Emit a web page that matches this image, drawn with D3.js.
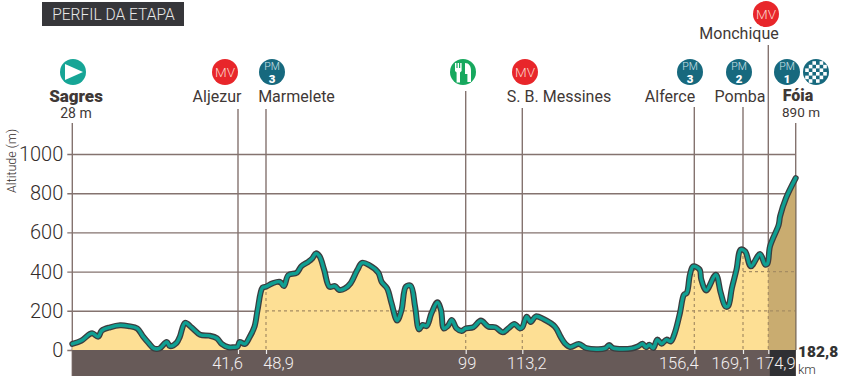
<!DOCTYPE html>
<html>
<head>
<meta charset="utf-8">
<script src="https://cdn.jsdelivr.net/npm/d3@7"></script>
<style>
  body { margin: 0; background: #fff; }
  svg { display: block; }
  text { font-family: Roboto, sans-serif; }
</style>
</head>
<body>
<div id="chart"></div>
<script>
// Profile: km along the stage, altitude in metres
const profileKm = [0, 2.3, 4.4, 5.1, 6.5, 7.4, 9.5, 12, 14.1, 16.3, 17.8, 19.1, 20.5, 21.9, 23.7, 24.5, 26.2, 27, 28.3, 30, 32.1, 34.4, 36.3, 37.5, 39.2, 40.5, 41.5, 42, 43.4, 44.6, 45.9, 46.7, 48, 48.9, 50.5, 52.4, 53.4, 54.5, 56.6, 57.8, 59.5, 60.5, 61.4, 62.3, 63.5, 64.8, 66.2, 67.3, 68.7, 70.1, 71.8, 73, 74.8, 77.1, 77.9, 79.3, 80.4, 81.8, 82.9, 84, 85.2, 86.3, 87.3, 88.2, 89.2, 90.4, 91.9, 92.8, 93.5, 94.5, 95.5, 96.7, 98, 99, 100.9, 102.8, 104.7, 106.4, 108.3, 109.7, 111.2, 112.6, 113.2, 114.3, 115.3, 116.6, 118.5, 121.4, 122.8, 123.9, 125.2, 127.4, 129.3, 134, 135, 136, 140.7, 142.3, 143.4, 144.3, 145.1, 146.1, 147.1, 148.2, 149.4, 150.5, 151.5, 152.8, 153.8, 154.5, 155.3, 156.1, 157.8, 158.2, 159.5, 162, 163.3, 164.5, 165.2, 166.2, 167.4, 168.5, 169.6, 170.9, 173, 174.2, 174.7, 175.4, 177.9, 178.3, 180, 182.8];
const profileAlt = [31, 48, 82, 85, 68, 99, 116, 126, 122, 110, 68, 37, 8, 8, 41, 20, 37, 68, 139, 114, 78, 73, 60, 31, 14, 14, 17, 41, 31, 65, 119, 204, 318, 323, 340, 348, 326, 382, 394, 428, 450, 467, 493, 479, 408, 323, 326, 306, 314, 340, 408, 445, 433, 394, 348, 314, 238, 150, 204, 323, 328, 221, 105, 128, 122, 187, 243, 204, 110, 122, 153, 110, 97, 110, 116, 150, 119, 116, 90, 110, 133, 110, 116, 170, 143, 172, 158, 119, 68, 34, 15, 31, 10, 8, 25, 10, 8, 19, 32, 14, 27, 10, 53, 32, 53, 44, 87, 189, 282, 291, 384, 427, 410, 362, 304, 384, 291, 223, 223, 316, 410, 512, 503, 427, 490, 435, 440, 529, 639, 682, 775, 877];

const altTicks = [0, 200, 400, 600, 800, 1000];
const kmTicks = [41.6, 48.9, 99, 113.2, 156.4, 169.1, 174.9];
const totalKm = 182.8;
const lastClimbKm = 174.9;

const placeNames = ["Aljezur", "Marmelete", "", "S. B. Messines", "Alferce", "Pomba", "Monchique"];
const placeKm = [41.6, 48.9, 99, 113.2, 156.4, 169.1, 174.9];
const placeBadge = ["MV", "PM3", "food", "MV", "PM3", "PM2", "MV"];

const width = 860, height = 376;

const colors = {
    grid: "#84736f", axisText: "#4d4442", band: "#675a58", bandDark: "#303033",
    area: "#fddf94", areaDark: "#c9ac70", dash: "#a58c62",
    line: "#0f9f92", lineEdge: "#3c3d3f",
    mv: "#e8262a", pm: "#17697e", start: "#16a596", food: "#17a85e"
};

const svg = d3.select("#chart").append("svg")
    .attr("width", width)
    .attr("height", height);

// The printed profile is not quite linear, so the scale is pinned at each km mark
const x = d3.scaleLinear()
    .domain([0, 41.6, 48.9, 99, 113.2, 156.4, 169.1, 174.9, 182.8])
    .range([72.3, 238, 266, 465.7, 522.3, 694.3, 743, 768.3, 795.7]);
const y = d3.scaleLinear().domain([0, 1000]).range([350, 154]);

const profile = profileKm.map((km, i) => ({ km: km, alt: profileAlt[i] }));
const curve = d3.curveCatmullRom.alpha(0.5);
const line = d3.line().curve(curve).x(d => x(d.km)).y(d => y(d.alt));
const area = d3.area().curve(curve).x(d => x(d.km)).y0(y(0)).y1(d => y(d.alt));

// Title box
svg.append("rect").attr("x", 42).attr("y", 2).attr("width", 142).attr("height", 24).attr("fill", "#36363a");
svg.append("text").attr("x", 113.5).attr("y", 20).attr("text-anchor", "middle")
    .attr("font-size", 15.6).attr("font-weight", 300).attr("fill", "#e8e8e8")
    .text("PERFIL DA ETAPA");

// Y axis, ticks stretched across as grid lines
const yAxis = svg.append("g")
    .attr("transform", `translate(${x(0)},0)`)
    .call(d3.axisLeft(y).tickValues(altTicks).tickSize(-(x(totalKm) - x(0))).tickPadding(9).tickFormat(d3.format("d")));
yAxis.select(".domain").remove();
yAxis.selectAll("line").attr("x1", -5).attr("stroke", colors.grid).attr("stroke-width", 1.4);
yAxis.selectAll("text").attr("font-size", 20).attr("font-weight", 300).attr("fill", "#332c2a")
    .style("font-family", "Roboto");

svg.append("text")
    .attr("transform", "translate(16,161) rotate(-90)")
    .attr("text-anchor", "middle").attr("font-size", 12.5).attr("font-weight", 300).attr("fill", "#332c2a")
    .text("Altitude (m)");

svg.append("line").attr("x1", x(0)).attr("x2", x(0)).attr("y1", 123).attr("y2", height)
    .attr("stroke", colors.grid).attr("stroke-width", 1.4);

// Guide lines from the labels down, covered by the area below the curve
const guideTop = { "Aljezur": 109, "Marmelete": 109, "": 91, "S. B. Messines": 108, "Alferce": 107, "Pomba": 107, "Monchique": 45 };
svg.selectAll(".guide").data(placeKm).join("line")
    .attr("class", "guide")
    .attr("x1", d => x(d)).attr("x2", d => x(d))
    .attr("y1", (d, i) => guideTop[placeNames[i]]).attr("y2", y(0))
    .attr("stroke", colors.grid).attr("stroke-width", 1.4);
svg.append("line").attr("x1", x(totalKm)).attr("x2", x(totalKm)).attr("y1", 123).attr("y2", y(0))
    .attr("stroke", colors.grid).attr("stroke-width", 1.4);

// Area, with the last climb darker
svg.append("path").datum(profile).attr("d", area).attr("fill", colors.area);
svg.append("clipPath").attr("id", "last-climb").append("rect")
    .attr("x", x(lastClimbKm)).attr("y", 0).attr("width", x(totalKm) - x(lastClimbKm)).attr("height", y(0));
svg.append("path").datum(profile).attr("d", area).attr("fill", colors.areaDark).attr("clip-path", "url(#last-climb)");

// Dashed grid inside the area only
svg.append("clipPath").attr("id", "under-curve").append("path").datum(profile).attr("d", area);
const dashed = svg.append("g").attr("clip-path", "url(#under-curve)")
    .attr("stroke", colors.dash).attr("stroke-width", 1.2).attr("stroke-dasharray", "3 3");
dashed.selectAll(".v").data(kmTicks).join("line").attr("class", "v")
    .attr("x1", d => x(d)).attr("x2", d => x(d)).attr("y1", y(1000)).attr("y2", y(0));
dashed.selectAll(".h").data(altTicks.slice(1, 3)).join("line").attr("class", "h")
    .attr("x1", d => x(d === 200 ? 48.9 : 169.1)).attr("x2", x(totalKm)).attr("y1", d => y(d)).attr("y2", d => y(d));

svg.append("line").attr("x1", x(totalKm)).attr("x2", x(totalKm)).attr("y1", y(880)).attr("y2", y(0))
    .attr("stroke", "#85765f").attr("stroke-width", 1.2);

// Bottom band
svg.append("rect").attr("x", x(0)).attr("y", y(0)).attr("width", x(totalKm) - x(0)).attr("height", height - y(0)).attr("fill", colors.band);
svg.append("rect").attr("x", x(lastClimbKm) + 1.5).attr("y", y(0)).attr("width", x(totalKm) - x(lastClimbKm) - 1.5).attr("height", height - y(0)).attr("fill", colors.bandDark);

// Profile line, dark edge under teal core
svg.append("path").datum(profile).attr("d", line).attr("fill", "none")
    .attr("stroke", colors.lineEdge).attr("stroke-width", 6).attr("stroke-linejoin", "round").attr("stroke-linecap", "round");
svg.append("path").datum(profile).attr("d", line).attr("fill", "none")
    .attr("stroke", colors.line).attr("stroke-width", 3.4).attr("stroke-linejoin", "round").attr("stroke-linecap", "round");

// X axis in the band
const kmLabelShift = { 41.6: -11, 48.9: 12, 99: 1, 113.2: 4, 156.4: -16, 169.1: -12, 174.9: 7 };
const xAxis = svg.append("g")
    .attr("transform", `translate(0,${y(0)})`)
    .call(d3.axisBottom(x).tickValues(kmTicks).tickSize(4).tickPadding(3).tickFormat(d => String(d).replace(".", ",")));
xAxis.select(".domain").remove();
xAxis.selectAll("line").attr("stroke", "#eee").attr("stroke-width", 1.2);
xAxis.selectAll("text").attr("font-size", 16.5).attr("font-weight", 300).attr("fill", "#f4f0f0")
    .style("font-family", "Roboto")
    .attr("dx", d => kmLabelShift[d]);

svg.append("text").attr("x", 798).attr("y", 357).attr("font-size", 15.5).attr("font-weight", 900).attr("fill", "#333").text("182,8");
svg.append("text").attr("x", 798).attr("y", 374).attr("font-size", 13).attr("font-weight", 300).attr("fill", "#333").text("km");

// Place names and badges
const badgeX = { "Aljezur": 225, "Marmelete": 272, "": 463, "S. B. Messines": 525, "Alferce": 690, "Pomba": 739, "Monchique": 766 };
const labelAnchor = {
    "Aljezur": [217, 102, "middle"], "Marmelete": [296.5, 102, "middle"], "S. B. Messines": [559, 102, "middle"],
    "Alferce": [670, 102, "middle"], "Pomba": [740, 102, "middle"], "Monchique": [739, 39, "middle"]
};

function badge(cx, cy, fill) {
    const g = svg.append("g").attr("transform", `translate(${cx},${cy})`);
    g.append("circle").attr("r", 13).attr("fill", fill);
    return g;
}
function mvBadge(cx, cy) {
    badge(cx, cy, colors.mv).append("text").attr("text-anchor", "middle").attr("y", 5)
        .attr("font-size", 13.5).attr("font-weight", 300).attr("fill", "#fbd5c8").text("MV");
}
function pmBadge(cx, cy, cat) {
    const g = badge(cx, cy, colors.pm);
    g.append("text").attr("text-anchor", "middle").attr("y", -2).attr("font-size", 10.5).attr("font-weight", 300).attr("fill", "#cfe3e8").text("PM");
    g.append("text").attr("text-anchor", "middle").attr("y", 11).attr("font-size", 11.5).attr("font-weight", 900).attr("fill", "#fff").text(cat);
}
function foodBadge(cx, cy) {
    const g = badge(cx, cy, colors.food);
    g.append("path").attr("fill", "#fff")
        .attr("d", "M-8,-9 h1.4 v5 h1.2 v-5 h1.4 v5 h1.2 v-5 h1.4 v8 l-1.6,1.6 v10 h-3.4 v-10 l-1.6,-1.6 z");
    g.append("path").attr("fill", "#fff")
        .attr("d", "M2,-9 c4,0 6,3 6,8 v11 h-3.6 v-8 h-2.4 z");
}
function finishBadge(cx, cy) {
    const g = badge(cx, cy, colors.pm);
    const cells = d3.range(-3, 3);
    cells.forEach(i => cells.forEach(j => {
        if ((i + j + 6) % 2 === 0 && (i + 0.5) * (i + 0.5) + (j + 0.5) * (j + 0.5) < 10) {
            g.append("rect").attr("x", i * 3.6).attr("y", j * 3.6).attr("width", 3.6).attr("height", 3.6).attr("fill", "#fff");
        }
    }));
}

placeNames.forEach((name, i) => {
    const cy = name === "Monchique" ? 14 : 72;
    const kind = placeBadge[i];
    if (kind === "MV") mvBadge(badgeX[name], cy);
    else if (kind === "food") foodBadge(badgeX[name], cy);
    else pmBadge(badgeX[name], cy, kind.slice(2));
    if (name) {
        const a = labelAnchor[name];
        svg.append("text").attr("x", a[0]).attr("y", a[1]).attr("text-anchor", a[2])
            .attr("font-size", 16).attr("font-weight", 400).attr("fill", "#3f3836").text(name);
    }
});

// Start and finish
const start = badge(73, 72, colors.start);
start.append("path").attr("fill", "#fff").attr("d", d3.line()([[-8, -8], [10, 0], [-8, 8]]) + "Z");
svg.append("text").attr("x", 76).attr("y", 102).attr("text-anchor", "middle").attr("font-size", 17).attr("font-weight", 900).attr("fill", "#3f3836").text("Sagres");
svg.append("text").attr("x", 76).attr("y", 118).attr("text-anchor", "middle").attr("font-size", 14).attr("font-weight", 400).attr("fill", "#3f3836").text("28 m");

pmBadge(787, 72, "1");
finishBadge(816, 72);
svg.append("text").attr("x", 798).attr("y", 101).attr("text-anchor", "middle").attr("font-size", 16).attr("font-weight", 900).attr("fill", "#3f3836").text("Fóia");
svg.append("text").attr("x", 801).attr("y", 117).attr("text-anchor", "middle").attr("font-size", 13.5).attr("font-weight", 400).attr("fill", "#3f3836").text("890 m");
</script>
</body>
</html>
